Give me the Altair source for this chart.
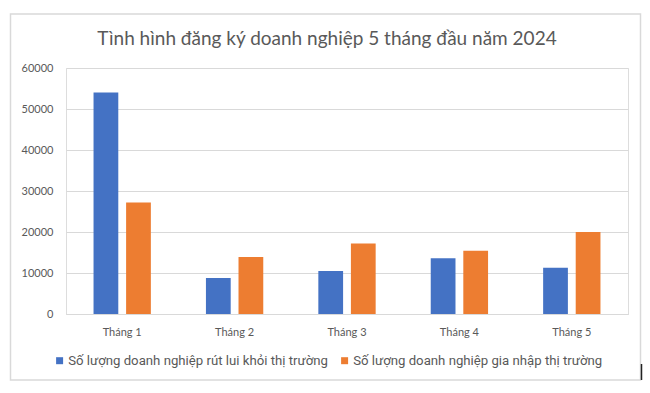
import altair as alt
import pandas as pd

months = ["Tháng 1", "Tháng 2", "Tháng 3", "Tháng 4", "Tháng 5"]
series = ["Số lượng doanh nghiệp rút lui khỏi thị trường",
          "Số lượng doanh nghiệp gia nhập thị trường"]
withdraw = [54000, 8800, 10500, 13600, 11300]
enter = [27200, 13900, 17200, 15400, 20000]
colors = ["#4472C4", "#ED7D31"]

rows = []
for m, a, b in zip(months, withdraw, enter):
    rows.append({"month": m, "series": series[0], "value": a})
    rows.append({"month": m, "series": series[1], "value": b})
df = pd.DataFrame(rows)

W, H = 562, 246

bars = alt.Chart(df).mark_bar().encode(
    x=alt.X("month:N", sort=months, title=None,
            scale=alt.Scale(paddingInner=0.49, paddingOuter=0.245),
            axis=alt.Axis(labelAngle=0, ticks=False, domainColor="#D9D9D9",
                          labelFont="Lato", labelFontSize=11, labelColor="#595959",
                          labelPadding=12)),
    xOffset=alt.XOffset("series:N", sort=series,
                        scale=alt.Scale(paddingInner=0.24, paddingOuter=0)),
    y=alt.Y("value:Q", title=None,
            scale=alt.Scale(domain=[0, 60000], nice=False),
            axis=alt.Axis(values=[0, 10000, 20000, 30000, 40000, 50000, 60000],
                          format="d", ticks=False, domain=False,
                          gridColor="#D9D9D9", labelFont="Lato", labelFontSize=11,
                          labelColor="#595959", labelPadding=13)),
    color=alt.Color("series:N", sort=series,
                    scale=alt.Scale(domain=series, range=colors),
                    legend=alt.Legend(title=None, orient="none", direction="horizontal",
                                      legendX=-13, legendY=286, symbolType="square",
                                      symbolSize=49, symbolStrokeWidth=0,
                                      labelFont="Roboto", labelFontSize=13.2,
                                      labelColor="#595959", labelLimit=400,
                                      labelOffset=2, columnPadding=10, padding=0)),
)

frame = alt.Chart(pd.DataFrame({"k": [0]})).mark_rect(
    fill=None, stroke="#D9D9D9", strokeWidth=1.5, clip=False
).encode(x=alt.value(-55.5), x2=alt.value(574.5), y=alt.value(-54), y2=alt.value(312))

cursor = alt.Chart(pd.DataFrame({"k": [0]})).mark_rule(
    color="#222222", strokeWidth=1.5, clip=False
).encode(x=alt.value(575.5), y=alt.value(296), y2=alt.value(312))

chart = alt.layer(frame, bars, cursor).properties(
    width=W, height=H,
    autosize=alt.AutoSizeParams(type="none"),
    padding={"left": 66, "top": 68, "right": 22, "bottom": 79},
    title=alt.TitleParams("Tình hình đăng ký doanh nghiệp 5 tháng đầu năm 2024",
                          font="Lato", fontSize=19, fontWeight="normal",
                          color="#595959", anchor="middle", frame="group",
                          dx=-20, dy=52, offset=16),
).configure_view(stroke=None).configure(background="white")

chart.save("out.html", embed_options={"renderer": "svg", "actions": False})
